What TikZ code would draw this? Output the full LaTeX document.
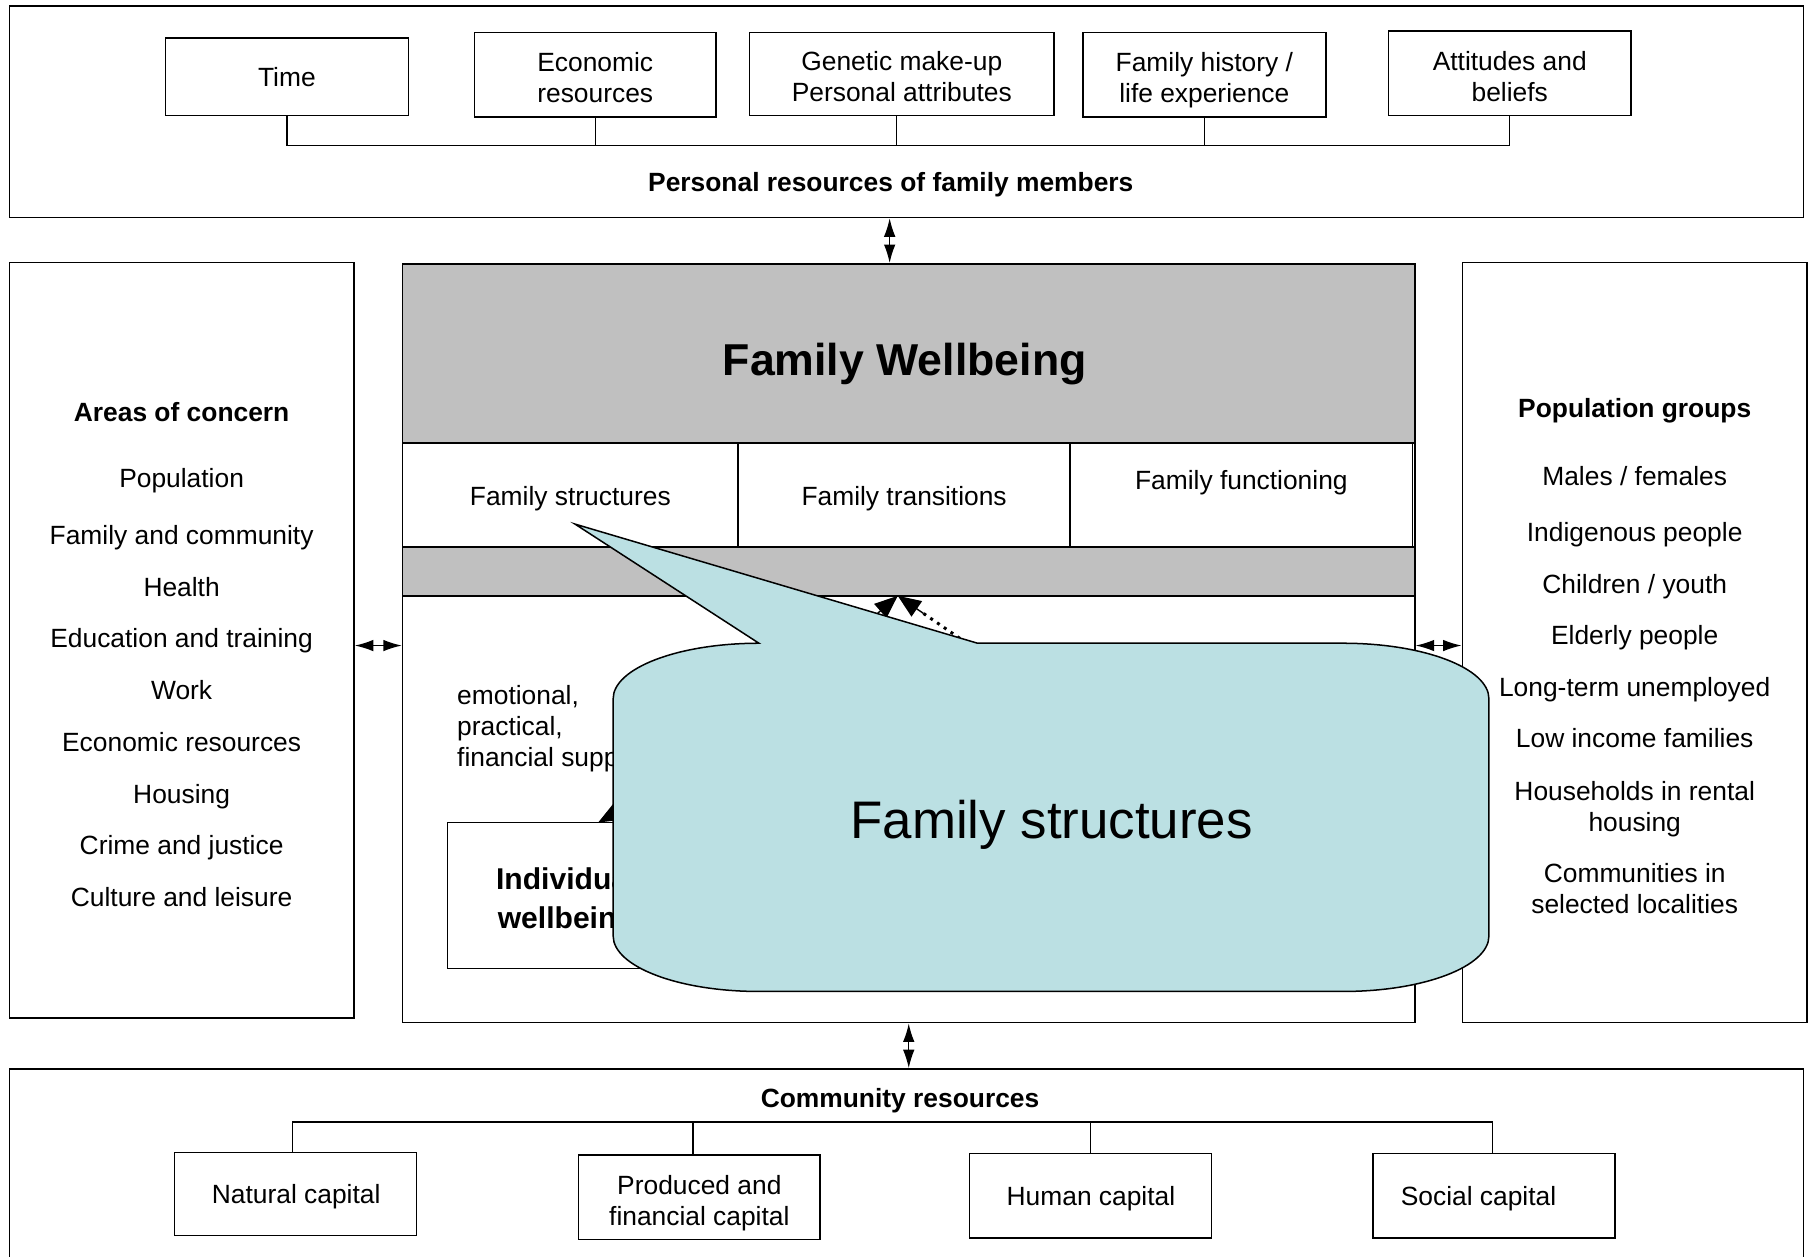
\documentclass[tikz,border=0pt]{standalone}
\usepackage{fontspec}
\setmainfont{Liberation Sans}
\usetikzlibrary{arrows.meta,calc}
\definecolor{panelgray}{RGB}{192,192,192}
\definecolor{calloutblue}{RGB}{187,224,227}
\begin{document}
\begin{tikzpicture}[x=1pt,y=-1pt,
  txt/.style={font=\fontsize{22.8}{27}\selectfont, inner sep=0pt, align=center},
  boldtxt/.style={font=\fontsize{22.8}{27}\selectfont\bfseries, inner sep=0pt, align=center},
  oneline/.style={text depth=0pt},
  titletxt/.style={font=\fontsize{38.6}{44}\selectfont\bfseries, inner sep=0pt, text depth=0pt},
  indivtxt/.style={font=\fontsize{26}{33}\selectfont\bfseries, inner sep=0pt, align=center},
  callouttxt/.style={font=\fontsize{45.7}{52}\selectfont, inner sep=0pt, text depth=0pt},
  smallbox/.style={draw, line width=1.3pt, minimum width=209pt, minimum height=73pt, inner sep=0pt},
  panel/.style={draw, line width=1.3pt, inner sep=0pt, fill=white},
  grayband/.style={draw, line width=1.3pt, inner sep=0pt, fill=panelgray},
  cell/.style={draw, line width=1.3pt, inner sep=0pt, fill=white, minimum height=90pt},
  link/.style={line width=1.2pt},
  dblarrow/.style={line width=1.2pt, {Latex[length=16pt,width=10pt]}-{Latex[length=16pt,width=10pt]}},
  bigtip/.style={line width=1.2pt, -{Triangle[length=20pt,width=16pt]}},
  dotline/.style={line width=2.6pt, dash pattern=on 2.6pt off 4.5pt},
]
\useasboundingbox (0,0) rectangle (1568,1086);
\fill[white] (0,0) rectangle (1568,1086);
\clip (0,0) rectangle (1568,1086);

% ---------- top panel ----------
\node[panel, minimum width=1551pt, minimum height=183pt] (toppanel) at (783.5,96.5) {};
\node[smallbox, minimum width=210pt, minimum height=67pt] (time) at (248,66.5) {};
\node[smallbox] (econ) at (514.5,64.5) {};
\node[smallbox, minimum width=263pt, minimum height=72pt] (genetic) at (779.5,64) {};
\node[smallbox, minimum width=210pt] (history) at (1041,64.5) {};
\node[smallbox, minimum width=210pt] (attitudes) at (1305,63.5) {};
\node[txt, oneline] (timelabel) at (time) {Time};
\node[txt, yshift=-2.5pt] (econlabel) at (econ) {Economic\\resources};
\node[txt, yshift=-2pt] (geneticlabel) at (genetic) {Genetic make-up\\Personal attributes};
\node[txt, yshift=-4.5pt] (historylabel) at (history) {Family history /\\life experience};
\node[txt, yshift=-2.5pt] (attitudeslabel) at (attitudes) {Attitudes and\\beliefs};
\coordinate (pbar) at (0,126);
\draw[link] (time.south) -- (time.south |- pbar) -- (attitudes.south |- pbar) -- (attitudes.south);
\foreach \n in {econ,history} \draw[link] (\n.south) -- (\n.south |- pbar);
\draw[link] ([xshift=-4.5pt]genetic.south) -- ([xshift=-4.5pt]genetic.south |- pbar);
\node[boldtxt, oneline] (personal) at (770,157) {Personal resources of family members};

% ---------- left panel ----------
\node[panel, minimum width=298pt, minimum height=653pt] (leftpanel) at (157,553.5) {};
\node[boldtxt, oneline] (areas) at (157,356) {Areas of concern};
\foreach \t/\yy [count=\i] in {Population/413, Family and community/462, Health/507,
  Education and training/551, Work/596, Economic resources/641, Housing/686,
  Crime and justice/730, Culture and leisure/775}
  \node[txt, oneline] (area\i) at (157,\yy) {\t};

% ---------- right panel ----------
\node[panel, minimum width=298pt, minimum height=657pt] (rightpanel) at (1413,555.5) {};
\node[boldtxt, oneline] (groups) at (1413,353) {Population groups};
\foreach \t/\yy [count=\i] in {{Males / females}/411, Indigenous people/460, {Children / youth}/505,
  Elderly people/549, Long-term unemployed/594, Low income families/638}
  \node[txt, oneline] (group\i) at (1413,\yy) {\t};
\node[txt, yshift=-2.5pt] (group7) at (1413,697) {Households in rental\\housing};
\node[txt] (group8) at (1413,768) {Communities in\\selected localities};

% ---------- main panel ----------
\node[panel, minimum width=875pt, minimum height=656pt] (main) at (785.5,556) {};
\node[grayband, minimum width=875pt, minimum height=155pt] (wbhead) at (785.5,305.5) {};
\node[titletxt] (wbtitle) at (782,311) {Family Wellbeing};
\node[cell, minimum width=290pt] (structures) at (493,428) {};
\node[cell, minimum width=287pt] (transitions) at (781.5,428) {};
\node[cell, minimum width=296pt] (functioning) at (1073,428) {};
\node[txt, oneline] (structext) at (493,429) {Family structures};
\node[txt, oneline] (transtext) at (781.5,429) {Family transitions};
\node[txt, oneline] (functext) at (1073,415) {Family functioning};
\node[grayband, minimum width=875pt, minimum height=42pt] (band) at (785.5,494) {};

\node[txt, align=left, anchor=west, yshift=-2pt] (support) at (395,628) {emotional,\\practical,\\financial support};
\node[panel, minimum width=205pt, minimum height=126pt] (indiv) at (489.5,774) {};
\node[indivtxt, yshift=-3pt] (indivlabel) at (489.5,776) {Individual\\wellbeing};

% arrows mostly covered by the callout
\coordinate (a1src) at (700,610);
\coordinate (a1tip) at (517,711);
\draw[bigtip] (a1src) -- (a1tip);
\coordinate (bandtip) at (776,515);
\coordinate (a2src) at (691,589);
\coordinate (a3src) at (900,600);
\coordinate (a3mid) at ($(bandtip)!0.18!(a3src)$);
\draw[bigtip] (a2src) -- (bandtip);
\draw[dotline] (a3src) -- (a3mid);
\draw[bigtip] (a3mid) -- (bandtip);

% ---------- bottom panel ----------
\node[panel, minimum width=1551pt, minimum height=176pt] (bottompanel) at (783.5,1012) {};
\node[boldtxt, oneline] (community) at (778,949) {Community resources};
\node[smallbox, minimum height=72pt] (natural) at (255.5,1032) {};
\node[smallbox] (produced) at (604.5,1035) {};
\node[smallbox] (human) at (942.5,1033.5) {};
\node[smallbox] (social) at (1291.5,1033.5) {};
\node[txt, oneline] (naturallabel) at (256,1032) {Natural capital};
\node[txt, yshift=-5pt] (producedlabel) at (604.5,1035) {Produced and\\financial capital};
\node[txt, oneline] (humanlabel) at (943,1033.5) {Human capital};
\node[txt, oneline] (sociallabel) at (1278,1033.5) {Social capital};
\coordinate (cbar) at (0,970);
\draw[link] ([xshift=-2.5pt]natural.north) -- ([xshift=-2.5pt]natural.north |- cbar) -- ([xshift=-1.5pt]social.north |- cbar) -- ([xshift=-1.5pt]social.north);
\draw[link] ([xshift=-5.5pt]produced.north) -- ([xshift=-5.5pt]produced.north |- cbar);
\draw[link] (human.north) -- (human.north |- cbar);

% ---------- connecting arrows ----------
\coordinate (tx) at (769,0);
\coordinate (sidey) at (0,558);
\draw[dblarrow] (toppanel.south -| tx) -- (main.north -| tx);
\draw[dblarrow] (main.south) -- (bottompanel.north -| main.south);
\draw[dblarrow] (leftpanel.east |- sidey) -- (main.west |- sidey);
\draw[dblarrow] (main.east |- sidey) -- (rightpanel.west |- sidey);

% ---------- callout ----------
\draw[line width=1.3pt, fill=calloutblue]
  (656,556) -- (497,453) -- (845,556) -- (1161,556)
  arc[start angle=90, end angle=0, x radius=126pt, y radius=48pt]
  -- (1287,809)
  arc[start angle=0, end angle=-90, x radius=126pt, y radius=48pt]
  -- (656,857)
  arc[start angle=-90, end angle=-180, x radius=126pt, y radius=48pt]
  -- (530,604)
  arc[start angle=180, end angle=90, x radius=126pt, y radius=48pt]
  -- cycle;
\node[callouttxt] (calloutlabel) at (909,708) {Family structures};
\end{tikzpicture}
\end{document}
